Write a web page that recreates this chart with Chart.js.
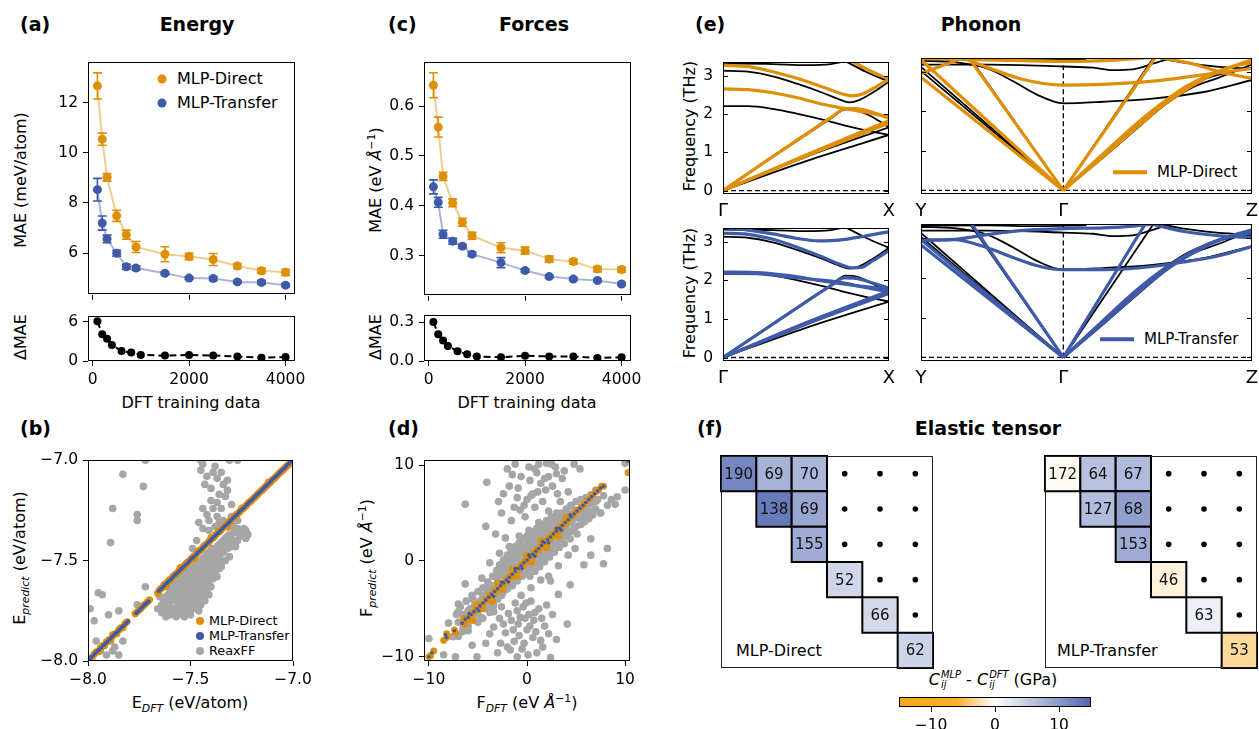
<!DOCTYPE html>
<html><head><meta charset="utf-8">
<script src="https://cdn.jsdelivr.net/npm/chart.js"></script>
<style>
html,body{margin:0;padding:0;background:#fff;}
body{width:1259px;height:729px;position:relative;overflow:hidden;font-family:'DejaVu Sans',sans-serif;color:#000;}
canvas{position:absolute;}
.t{position:absolute;white-space:nowrap;line-height:1;}
.b{font-weight:bold;font-size:19px;}
.lab{font-size:16px;}
.rot{transform:translate(-50%,-50%) rotate(-90deg);}
.ctr{transform:translate(-50%,-50%);}
.lft{transform:translateY(-50%);}
sub,sup{font-size:68%;line-height:0;}
.ss{display:inline-flex;flex-direction:column;vertical-align:middle;font-size:62%;font-style:italic;line-height:1.05;margin-left:1px;}
.dot{position:absolute;border-radius:50%;transform:translate(-50%,-50%);}
.ln{position:absolute;transform:translateY(-50%);}
</style></head><body>
<div class="t b lft" style="left:20px;top:24px">(a)</div>
<div class="t b ctr" style="left:197px;top:24px">Energy</div>
<div class="t b lft" style="left:388px;top:24px">(c)</div>
<div class="t b ctr" style="left:534px;top:24px">Forces</div>
<div class="t b lft" style="left:695px;top:24px">(e)</div>
<div class="t b ctr" style="left:981px;top:24px">Phonon</div>
<div class="t b lft" style="left:20px;top:428px">(b)</div>
<div class="t b lft" style="left:388px;top:428px">(d)</div>
<div class="t b lft" style="left:697px;top:428px">(f)</div>
<div class="t b ctr" style="left:988px;top:428px">Elastic tensor</div>

<div class="t lab rot" style="left:21px;top:180px">MAE (meV/atom)</div>
<div class="t lab rot" style="left:21px;top:337px">ΔMAE</div>
<div class="t lab rot" style="left:376px;top:180px">MAE (eV <i>Å</i><sup>−1</sup>)</div>
<div class="t lab rot" style="left:376px;top:337px">ΔMAE</div>
<div class="t lab ctr" style="left:191px;top:403px">DFT training data</div>
<div class="t lab ctr" style="left:527px;top:403px">DFT training data</div>
<div class="t lab rot" style="left:690px;top:126px">Frequency (THz)</div>
<div class="t lab rot" style="left:690px;top:293px">Frequency (THz)</div>
<div class="t lab rot" style="left:20px;top:558px">E<sub><i>predict</i></sub> (eV/atom)</div>
<div class="t lab rot" style="left:367px;top:558px">F<sub><i>predict</i></sub> (eV <i>Å</i><sup>−1</sup>)</div>
<div class="t lab ctr" style="left:190px;top:703px">E<sub><i>DFT</i></sub> (eV/atom)</div>
<div class="t lab ctr" style="left:527px;top:703px">F<sub><i>DFT</i></sub> (eV <i>Å</i><sup>−1</sup>)</div>
<div class="t lab ctr" style="left:993px;top:680px"><i>C</i><span class="ss"><span>MLP</span><span>ij</span></span> - <i>C</i><span class="ss"><span>DFT</span><span>ij</span></span> (GPa)</div>

<div class="dot" style="left:162px;top:79px;width:9px;height:9px;background:#DE8F05"></div>
<div class="t lab lft" style="left:177px;top:79px">MLP-Direct</div>
<div class="dot" style="left:162px;top:103px;width:9px;height:9px;background:#3F5AA8"></div>
<div class="t lab lft" style="left:177px;top:103px">MLP-Transfer</div>

<div class="dot" style="left:200px;top:621px;width:8px;height:8px;background:#DE8F05"></div>
<div class="t lft" style="left:209px;top:621px;font-size:12.8px">MLP-Direct</div>
<div class="dot" style="left:200px;top:636px;width:8px;height:8px;background:#3F5AA8"></div>
<div class="t lft" style="left:209px;top:636px;font-size:12.8px">MLP-Transfer</div>
<div class="dot" style="left:200px;top:651px;width:8px;height:8px;background:#A6A6A6"></div>
<div class="t lft" style="left:209px;top:651px;font-size:12.8px">ReaxFF</div>

<div class="ln" style="left:1113px;top:172px;width:34px;height:3.5px;background:#DE8F05"></div>
<div class="t lft" style="left:1157px;top:172px;font-size:15px">MLP-Direct</div>
<div class="ln" style="left:1100px;top:339px;width:34px;height:3.5px;background:#3F5AA8"></div>
<div class="t lft" style="left:1144px;top:339px;font-size:15px">MLP-Transfer</div>

<div class="t lab lft" style="left:736px;top:651px">MLP-Direct</div>
<div class="t lab lft" style="left:1057px;top:651px">MLP-Transfer</div>

<script>
// ===================== DATA =====================
const trainSizes = [100,200,300,500,700,900,1500,2000,2500,3000,3500,4000];
const deltaSizes = [100,200,300,400,600,800,1000,1500,2000,2500,3000,3500,4000];

const energyDirect      = [12.66,10.54,9.02,7.49,6.74,6.25,5.96,5.87,5.75,5.49,5.30,5.24];
const energyDirectErr   = [0.52,0.24,0.15,0.22,0.18,0.22,0.30,0.13,0.24,0.10,0.10,0.12];
const energyTransfer    = [8.53,7.20,6.57,6.00,5.46,5.41,5.20,5.01,4.99,4.86,4.84,4.73];
const energyTransferErr = [0.45,0.28,0.15,0.12,0.10,0.08,0.05,0.05,0.08,0.05,0.07,0.05];
const energyDelta       = [6.05,4.06,3.37,2.45,1.52,1.29,0.92,0.83,0.92,0.83,0.69,0.50,0.60];

const forceDirect      = [0.642,0.558,0.459,0.406,0.367,0.340,0.316,0.310,0.293,0.288,0.273,0.272];
const forceDirectErr   = [0.025,0.020,0.008,0.008,0.008,0.007,0.010,0.007,0.006,0.005,0.005,0.005];
const forceTransfer    = [0.438,0.407,0.343,0.329,0.319,0.303,0.286,0.270,0.258,0.253,0.250,0.243];
const forceTransferErr = [0.014,0.010,0.008,0.006,0.004,0.004,0.010,0.003,0.003,0.003,0.003,0.003];
const forceDelta       = [0.300,0.206,0.158,0.116,0.076,0.052,0.035,0.028,0.040,0.035,0.035,0.024,0.028];

const sizeTicks = [0,2000,4000];
const energyMaeTicks = [6,8,10,12];
const energyDeltaTicks = [0,6];
const forceMaeTicks = [0.3,0.4,0.5,0.6];
const forceDeltaTicks = [0,0.3];
const parityTicksE = [-8,-7.5,-7];
const parityTicksF = [-10,0,10];
const freqTicks = [0,1,2,3];
const gxTickPos = [0,1];
const gxTickLabels = ['Γ','X'];
const ygzTickPos = [0,0.43,1];
const ygzTickLabels = ['Y','Γ','Z'];
const cbarTicks = [-10,0,10];

// (b) energy parity [E_DFT, E_predict]
const directE = [
[-8.00,-7.995],[-7.99,-7.985],[-7.98,-7.984],[-7.97,-7.965],[-7.96,-7.955],[-7.95,-7.954],[-7.94,-7.935],[-7.93,-7.925],[-7.92,-7.924],[-7.91,-7.905],[-7.90,-7.895],[-7.89,-7.894],[-7.88,-7.875],[-7.87,-7.865],[-7.86,-7.864],[-7.85,-7.845],[-7.84,-7.835],[-7.83,-7.834],[-7.82,-7.815],[-7.81,-7.805],
[-7.77,-7.765],[-7.76,-7.755],[-7.75,-7.745],[-7.74,-7.735],[-7.73,-7.725],[-7.72,-7.715],[-7.71,-7.705],[-7.70,-7.695],
[-7.66,-7.662],[-7.645,-7.640],[-7.63,-7.622],[-7.615,-7.610],[-7.60,-7.595],[-7.585,-7.578],[-7.57,-7.566],[-7.555,-7.548],[-7.54,-7.536],[-7.525,-7.518],[-7.51,-7.506],[-7.495,-7.489],[-7.48,-7.476],[-7.465,-7.458],[-7.45,-7.446],[-7.435,-7.428],[-7.42,-7.416],[-7.405,-7.399],[-7.39,-7.386],[-7.375,-7.368],[-7.36,-7.357],[-7.345,-7.339],[-7.33,-7.326],[-7.315,-7.309],[-7.30,-7.297],[-7.285,-7.280],[-7.27,-7.266],[-7.255,-7.250],[-7.24,-7.238],[-7.225,-7.221],[-7.21,-7.207],[-7.195,-7.192],[-7.18,-7.178],[-7.165,-7.161],[-7.15,-7.148],[-7.135,-7.132],[-7.12,-7.118],[-7.105,-7.102],[-7.09,-7.089],[-7.075,-7.073],[-7.06,-7.058],[-7.045,-7.044],[-7.03,-7.029],[-7.015,-7.014],[-7.00,-7.000],
[-7.652,-7.648],[-7.637,-7.634],[-7.622,-7.618],[-7.607,-7.600],[-7.592,-7.589],[-7.577,-7.571],[-7.562,-7.558],[-7.547,-7.540],[-7.532,-7.529],[-7.517,-7.510],[-7.502,-7.499],[-7.487,-7.481],[-7.472,-7.468],[-7.457,-7.450],[-7.442,-7.439],[-7.427,-7.420],[-7.412,-7.409],[-7.397,-7.390],[-7.382,-7.379],[-7.367,-7.360],[-7.352,-7.349],[-7.337,-7.331],[-7.322,-7.319],[-7.307,-7.301],[-7.292,-7.289],[-7.277,-7.271],[-7.262,-7.259],[-7.247,-7.242],[-7.232,-7.229],[-7.217,-7.212],[-7.202,-7.200],[-7.187,-7.184],[-7.172,-7.169],[-7.157,-7.154],[-7.142,-7.140],[-7.127,-7.124],[-7.112,-7.110],[-7.097,-7.095],[-7.082,-7.081],[-7.067,-7.065],[-7.052,-7.051],[-7.037,-7.036],[-7.022,-7.021],[-7.007,-7.006],
[-7.55,-7.535],[-7.40,-7.385],[-7.48,-7.490],[-7.62,-7.628],[-7.25,-7.238],[-7.32,-7.333],[-7.12,-7.108],[-7.88,-7.870]
];
const transferE = [
[-7.995,-7.992],[-7.985,-7.982],[-7.975,-7.973],[-7.965,-7.962],[-7.955,-7.951],[-7.945,-7.943],[-7.935,-7.934],[-7.925,-7.922],[-7.915,-7.912],[-7.905,-7.903],[-7.895,-7.893],[-7.885,-7.882],[-7.875,-7.871],[-7.865,-7.862],[-7.855,-7.853],[-7.845,-7.842],[-7.835,-7.832],[-7.825,-7.823],[-7.815,-7.812],[-7.805,-7.803],
[-7.765,-7.761],[-7.755,-7.752],[-7.745,-7.743],[-7.735,-7.732],[-7.725,-7.721],[-7.715,-7.713],[-7.705,-7.703],
[-7.655,-7.651],[-7.645,-7.642],[-7.635,-7.632],[-7.625,-7.621],[-7.615,-7.611],[-7.605,-7.602],[-7.595,-7.593],[-7.585,-7.581],[-7.575,-7.570],[-7.565,-7.562],[-7.555,-7.552],[-7.545,-7.541],[-7.535,-7.531],[-7.525,-7.522],[-7.515,-7.513],[-7.505,-7.501],[-7.495,-7.490],[-7.485,-7.482],[-7.475,-7.472],[-7.465,-7.461],[-7.455,-7.451],[-7.445,-7.442],[-7.435,-7.432],[-7.425,-7.421],[-7.415,-7.410],[-7.405,-7.402],[-7.395,-7.392],[-7.385,-7.381],[-7.375,-7.371],[-7.365,-7.362],[-7.355,-7.352],[-7.345,-7.341],[-7.335,-7.330],[-7.325,-7.322],[-7.315,-7.312],[-7.305,-7.301],[-7.295,-7.291],[-7.285,-7.282],[-7.275,-7.272],[-7.265,-7.261],[-7.255,-7.250],[-7.245,-7.242],[-7.235,-7.232],[-7.225,-7.221],[-7.215,-7.211],[-7.205,-7.202],[-7.195,-7.192],[-7.185,-7.181],[-7.175,-7.170],[-7.165,-7.162],[-7.155,-7.152],[-7.145,-7.141],[-7.135,-7.131],[-7.125,-7.122],[-7.115,-7.112],[-7.105,-7.101],[-7.095,-7.090],[-7.085,-7.082],[-7.075,-7.072],[-7.065,-7.061],[-7.055,-7.051],[-7.045,-7.042],[-7.035,-7.032],[-7.025,-7.021],[-7.015,-7.011],[-7.005,-7.002]
];
const reaxE = [
[-7.83,-7.07],[-7.73,-7.13],[-7.88,-7.24],[-7.89,-7.41],[-7.76,-7.27],[-7.76,-7.30],[-7.72,-7.63],[-7.95,-7.66],[-7.93,-7.67],[-7.99,-7.74],[-7.97,-7.80],[-7.76,-7.72],[-7.85,-7.75],[-7.90,-7.77],[-7.96,-7.90],[-7.92,-7.92],[-7.88,-7.95],[-7.85,-7.97],[-7.89,-7.90],[-7.83,-7.90],[-7.87,-7.93],[-7.94,-7.95],[-7.91,-7.97],
[-7.72,-7.00],[-7.45,-7.00],[-7.31,-7.00],[-7.27,-7.00],[-7.45,-7.05],[-7.39,-7.06],[-7.37,-7.09],[-7.43,-7.12],[-7.34,-7.12],[-7.32,-7.10],[-7.36,-7.17],[-7.37,-7.21],[-7.32,-7.15],[-7.42,-7.27],[-7.37,-7.28],[-7.46,-7.31],[-7.41,-7.35],[-7.36,-7.31],[-7.29,-7.33],[-7.26,-7.36],[-7.23,-7.39],[-7.31,-7.41],[-7.28,-7.43],[-7.47,-7.40],[-7.49,-7.44],[-7.40,-7.20],[-7.44,-7.24],
[-7.44,-7.02],[-7.42,-7.08],[-7.40,-7.14],[-7.38,-7.03],[-7.35,-7.06],[-7.33,-7.18],[-7.30,-7.22],[-7.35,-7.24],[-7.39,-7.24],[-7.41,-7.30],[-7.44,-7.34],[-7.38,-7.33],[-7.34,-7.30],[-7.30,-7.28],[-7.27,-7.30],
[-7.64,-7.72],[-7.64,-7.76],[-7.62,-7.68],[-7.62,-7.74],[-7.60,-7.65],[-7.60,-7.71],[-7.60,-7.77],[-7.58,-7.62],[-7.58,-7.68],[-7.58,-7.74],[-7.56,-7.60],[-7.56,-7.66],[-7.56,-7.72],[-7.56,-7.77],[-7.54,-7.58],[-7.54,-7.64],[-7.54,-7.70],[-7.54,-7.75],[-7.52,-7.56],[-7.52,-7.62],[-7.52,-7.68],[-7.52,-7.74],[-7.50,-7.54],[-7.50,-7.60],[-7.50,-7.66],[-7.50,-7.72],[-7.50,-7.77],[-7.48,-7.53],[-7.48,-7.59],[-7.48,-7.65],[-7.48,-7.71],[-7.46,-7.51],[-7.46,-7.57],[-7.46,-7.63],[-7.46,-7.69],[-7.46,-7.75],[-7.44,-7.49],[-7.44,-7.55],[-7.44,-7.61],[-7.44,-7.67],[-7.42,-7.47],[-7.42,-7.53],[-7.42,-7.59],[-7.42,-7.65],[-7.40,-7.45],[-7.40,-7.51],[-7.40,-7.57],[-7.40,-7.63],[-7.38,-7.44],[-7.38,-7.50],[-7.38,-7.56],[-7.36,-7.42],[-7.36,-7.48],[-7.36,-7.54],[-7.34,-7.40],[-7.34,-7.46],[-7.32,-7.38],[-7.32,-7.44],[-7.30,-7.37],[-7.30,-7.43],[-7.28,-7.35],[-7.26,-7.38],[-7.24,-7.34],[-7.22,-7.37],[-7.62,-7.78],[-7.57,-7.78],[-7.53,-7.78],[-7.59,-7.66],[-7.55,-7.69],[-7.51,-7.64],[-7.47,-7.62],[-7.43,-7.58],[-7.39,-7.54],[-7.35,-7.50],[-7.31,-7.48],[-7.66,-7.74],[-7.65,-7.68],
[-7.63,-7.70],[-7.63,-7.75],[-7.61,-7.67],[-7.61,-7.73],[-7.59,-7.63],[-7.59,-7.70],[-7.59,-7.76],[-7.57,-7.61],[-7.57,-7.64],[-7.57,-7.69],[-7.57,-7.75],[-7.55,-7.59],[-7.55,-7.63],[-7.55,-7.67],[-7.55,-7.74],[-7.53,-7.57],[-7.53,-7.60],[-7.53,-7.66],[-7.53,-7.71],[-7.53,-7.76],[-7.51,-7.55],[-7.51,-7.58],[-7.51,-7.62],[-7.51,-7.69],[-7.51,-7.75],[-7.49,-7.56],[-7.49,-7.63],[-7.49,-7.68],[-7.49,-7.74],[-7.47,-7.52],[-7.47,-7.55],[-7.47,-7.66],[-7.47,-7.72],[-7.45,-7.50],[-7.45,-7.54],[-7.45,-7.60],[-7.45,-7.66],[-7.45,-7.72],[-7.43,-7.48],[-7.43,-7.52],[-7.43,-7.63],[-7.43,-7.70],[-7.41,-7.46],[-7.41,-7.49],[-7.41,-7.55],[-7.41,-7.61],[-7.41,-7.67],[-7.39,-7.44],[-7.39,-7.48],[-7.39,-7.52],[-7.39,-7.59],[-7.37,-7.43],[-7.37,-7.47],[-7.37,-7.52],[-7.37,-7.58],[-7.35,-7.41],[-7.35,-7.45],[-7.35,-7.53],[-7.33,-7.39],[-7.33,-7.43],[-7.33,-7.50],[-7.31,-7.37],[-7.31,-7.42],[-7.29,-7.36],[-7.29,-7.40],[-7.27,-7.34],[-7.27,-7.40],[-7.25,-7.36],[-7.23,-7.35]
];

// (d) force parity [F_DFT, F_predict]
const directF = [
[-10.0,-10.0],[-9.8,-9.9],[-9.5,-9.4],[-8.5,-8.3],[-8.2,-8.0],[-8.2,-7.6],[-7.4,-7.2],[-7.3,-7.5],[-6.5,-6.5],[-6.4,-6.0],[-6.1,-6.2],[-5.8,-5.6],[-5.5,-5.4],[-5.2,-5.0],[-5.0,-5.1],[-4.8,-4.6],[-4.5,-4.5],[-4.2,-4.0],[-4.0,-4.1],[-3.8,-3.6],[-3.6,-3.7],[-3.4,-3.2],[-3.2,-3.3],[-3.0,-2.8],[-2.8,-2.9],[-2.6,-2.4],[-2.4,-2.5],[-2.2,-2.0],[-2.0,-2.1],[-1.8,-1.6],[-1.6,-1.7],[-1.4,-1.2],[-1.2,-1.3],[-1.0,-0.8],[-0.8,-0.9],[-0.6,-0.4],[-0.4,-0.5],[-0.2,0.0],[0.0,-0.1],[0.2,0.4],[0.4,0.3],[0.6,0.8],[0.8,0.7],[1.0,1.2],[1.2,1.1],[1.4,1.6],[1.6,1.5],[1.8,2.0],[2.0,1.9],[2.2,2.4],[2.4,2.3],[2.6,2.8],[2.8,2.7],[3.0,3.2],[3.2,3.1],[3.4,3.6],[3.6,3.5],[3.8,4.0],[4.0,3.9],[4.0,4.6],[4.3,4.4],[4.6,4.7],[4.9,5.0],[5.2,5.3],[5.5,5.6],[5.8,5.9],[6.1,6.3],[6.4,6.5],[6.7,6.9],[7.0,7.2],[7.3,7.4],[7.6,7.8],[7.8,7.8],[10.3,9.2],
[-3.5,-4.2],[-2.5,-3.0],[-1.0,-1.6],[0.5,-0.1],[2.0,1.4],[3.2,2.6],[-4.5,-5.0],[-5.5,-6.2],[-3.0,-2.3],[-1.5,-0.9],[0.0,0.6],[1.5,2.1],[-5.2,-4.6],[-6.3,-6.6]
];
const transferF = [
[-10.0,-10.0],[-9.7,-9.6],[-8.2,-8.0],[-8.3,-7.7],[-7.4,-7.3],[-6.6,-6.5],[-6.3,-6.1],[-6.0,-5.9],[-5.7,-5.6],[-5.4,-5.3],[-5.1,-5.0],[-4.8,-4.7],[-4.5,-4.4],[-4.2,-4.1],[-3.9,-3.8],[-3.6,-3.5],[-3.3,-3.2],[-3.0,-2.9],[-2.7,-2.6],[-2.4,-2.3],[-2.1,-2.0],[-1.8,-1.7],[-1.5,-1.4],[-1.2,-1.1],[-0.9,-0.8],[-0.6,-0.5],[-0.3,-0.2],[0.0,0.1],[0.3,0.4],[0.6,0.7],[0.9,1.0],[1.2,1.3],[1.5,1.6],[1.8,1.9],[2.1,2.2],[2.4,2.5],[2.7,2.8],[3.0,3.1],[3.3,3.4],[3.6,3.7],[3.9,4.0],[4.2,4.3],[4.5,4.6],[4.8,4.9],[5.1,5.2],[5.4,5.5],[5.7,5.8],[6.0,6.1],[6.3,6.4],[6.6,6.7],[6.9,7.0],[7.2,7.3],[7.5,7.6],[7.8,7.8],[10.3,10.4],
[-3.4,-3.7],[-1.9,-2.2],[-0.5,-0.8],[0.8,0.5],[2.2,1.9],[3.5,3.2],[-2.6,-2.2],[-1.2,-0.8],[0.2,0.6],[1.6,2.0],[3.0,3.4],[4.4,4.8],[-4.9,-5.2],[-5.9,-5.5]
];
const reaxF = [
[-8.5,-9.8],[-8.0,-6.5],[-7.6,-7.9],[-7.2,-5.6],[-7.0,-6.4],[-6.8,-4.8],[-6.6,-7.4],[-6.4,-5.6],[-6.2,-4.2],[-6.0,-6.8],[-5.8,-5.0],[-5.6,-3.6],[-5.5,-6.2],[-5.3,-4.4],[-5.1,-5.6],[-5.0,-3.2],[-4.8,-4.2],[-4.7,-5.9],[-4.5,-2.8],[-4.4,-3.6],[-4.3,-5.0],[-4.1,-4.4],[-4.0,-2.2],[-3.9,-3.0],[-3.8,-5.4],[-3.7,-3.9],[-3.5,-1.6],[-3.5,-2.6],[-3.4,-4.6],[-3.3,-3.3],[-3.1,-1.0],[-3.0,-2.0],[-3.0,-4.0],[-2.9,-2.8],[-2.8,-0.4],[-2.7,-1.5],[-2.6,-3.6],[-2.5,-2.4],[-2.4,0.1],[-2.3,-1.0],[-2.2,-3.0],[-2.1,-1.9],[-2.0,0.6],[-1.9,-0.4],[-1.8,-2.6],[-1.7,-1.4],[-1.6,1.0],[-1.5,0.1],[-1.4,-2.2],[-1.3,-0.9],[-1.2,1.5],[-1.1,0.4],[-1.0,-1.8],[-0.9,-0.5],[-0.8,1.9],[-0.7,0.9],[-0.6,-1.4],[-0.5,-0.2],[-0.4,2.3],[-0.3,1.3],[-0.2,-1.0],[-0.1,0.3],[0.0,2.6],[0.1,-0.6],[0.2,1.8],[0.3,-1.6],[0.4,0.8],[0.5,3.0],[0.6,-0.2],[0.7,2.2],[0.8,-1.1],[0.9,1.4],[1.0,3.4],[1.1,0.3],[1.2,2.6],[1.3,-0.6],[1.4,1.8],[1.5,3.8],[1.6,0.8],[1.7,3.0],[1.8,-0.1],[1.9,2.3],[2.0,4.2],[2.1,1.3],[2.2,3.4],[2.3,0.4],[2.4,2.7],[2.5,4.6],[2.6,1.8],[2.7,3.8],[2.8,0.9],[2.9,3.1],[3.0,5.0],[3.1,2.2],[3.2,4.1],[3.3,1.4],[3.4,3.5],[3.6,2.6],[3.7,4.5],[3.8,1.8],[4.0,3.9],[4.1,3.0],[4.3,4.9],[4.4,2.3],[4.6,4.2],[4.8,3.4],[5.0,5.3],[5.1,2.8],[5.3,4.6],[5.5,3.8],[5.7,5.5],[5.9,4.1],[6.1,5.0],[6.3,4.4],[6.5,6.0],[6.7,4.8],[7.0,5.4],[7.2,6.4],[7.5,5.0],[7.8,6.8],[8.2,5.8],[8.6,6.4],
[-7.0,-7.9],[-7.0,-5.3],[-6.5,-6.0],[-6.5,-5.6],[-6.5,-7.0],[-6.0,-5.2],[-6.0,-6.0],[-6.0,-7.3],[-5.5,-4.9],[-5.5,-5.5],[-5.5,-4.0],[-5.0,-4.7],[-5.0,-6.4],[-5.0,-5.3],[-4.5,-3.6],[-4.5,-4.8],[-4.5,-6.0],[-4.0,-3.4],[-4.0,-4.8],[-4.0,-2.9],[-3.5,-3.1],[-3.5,-4.1],[-3.5,-5.0],[-3.0,-2.6],[-3.0,-3.2],[-3.0,-1.6],[-2.5,-1.3],[-2.5,-3.4],[-2.5,-0.6],[-2.0,-1.7],[-2.0,-2.9],[-2.0,0.1],[-2.0,-0.9],[-1.5,-1.2],[-1.5,-2.6],[-1.5,0.5],[-1.5,-0.3],[-1.0,-1.2],[-1.0,-2.1],[-1.0,1.1],[-1.0,0.2],[-0.5,-0.7],[-0.5,-1.6],[-0.5,1.5],[-0.5,0.6],[0.0,-0.4],[0.0,-1.3],[0.0,2.1],[0.0,1.1],[0.5,0.3],[0.5,-0.8],[0.5,2.4],[0.5,1.5],[1.0,0.7],[1.0,-0.3],[1.0,2.8],[1.0,1.9],[1.5,1.2],[1.5,0.2],[1.5,3.2],[1.5,2.5],[2.0,1.7],[2.0,0.7],[2.0,3.7],[2.0,2.9],[2.5,2.2],[2.5,1.1],[2.5,4.1],[2.5,3.3],[3.0,2.6],[3.0,1.7],[3.0,4.5],[3.0,3.8],[3.5,3.2],[3.5,2.2],[3.5,5.0],[3.5,4.2],[4.0,3.5],[4.0,2.6],[4.0,5.4],[4.0,4.5],[4.5,4.0],[4.5,3.1],[4.5,5.8],[4.5,4.9],[5.0,4.5],[5.0,3.6],[5.0,6.2],[5.5,4.9],[5.5,4.2],[5.5,6.4],[6.0,5.5],[6.0,4.6],[6.0,6.6],[6.5,5.2],[6.5,6.9],[7.0,6.2],[7.0,7.4],
[-1.8,1.5],[-2.8,0.8],[-3.8,-0.2],[-4.6,-1.8],[-0.8,2.6],[0.2,3.2],[1.2,4.0],[-2.2,2.4],[2.2,-1.6],[3.2,-0.5],[4.2,0.6],[1.4,-2.0],[0.4,-2.8],[-0.6,-3.6],
[-1.2,10.1],[-2.0,9.6],[1.2,10.1],[2.5,10.1],[2.9,9.8],[4.8,10.1],[5.4,9.6],[-4.1,8.2],[-2.4,7.0],[0.3,8.4],[1.4,8.1],[1.9,7.4],[-6.3,5.9],[-4.2,3.6],[-3.2,2.8],[-0.7,5.3],[0.0,6.4],[3.1,7.0],[4.4,5.7],[7.5,5.0],[9.0,5.9],[10.0,7.4],[9.2,6.7],[-1.6,4.2],[-0.2,4.6],[0.8,5.6],[1.6,6.2],[2.2,5.2],[-2.6,5.0],[0.6,7.0],[3.6,8.6],[-0.6,8.8],[1.0,9.2],[2.2,8.8],[3.4,6.2],[-1.0,6.6],[-1.8,7.8],[0.2,9.8],[3.8,9.4],[10.0,10.2],
[-0.3,5.8],[0.4,6.8],[1.1,7.2],[-1.3,5.6],[2.6,7.8],[1.8,8.6],[-0.9,7.6],[0.8,9.6],[-2.9,6.2],[3.0,9.1],[-1.5,9.0],[2.0,10.2],[4.2,7.2],
[-6.3,-2.4],[-5.8,-5.2],[-7.0,-4.5],[-7.5,-7.9],[-7.3,-10.0],[-10.0,-8.1],[-5.1,-10.0],[-4.2,-8.6],[-3.4,-6.9],[-2.7,-8.6],[-1.7,-9.3],[-1.0,-10.0],[-0.3,-8.6],[0.0,-7.2],[0.7,-6.2],[1.0,-9.6],[2.4,-10.1],[-0.7,-5.9],[-1.9,-5.5],[-1.4,-7.2],[-2.4,-6.6],[3.2,-3.5],[4.1,-6.6],[4.4,-2.5],[5.8,-0.4],[6.5,0.6],[7.8,-0.3],[8.2,1.3],[2.4,-2.1],[4.9,1.3],[6.5,2.3],[1.4,-8.3],[-0.4,-4.8],[0.4,-4.2],[1.2,-5.0],[-1.2,-4.4],[0.2,-5.6],[-0.8,-7.8],[0.6,-8.0],[-2.0,-9.0],[-3.0,-9.6],[1.8,-6.8],[-1.6,-6.2],[2.0,-4.6],[-2.6,-4.8],[-3.8,-7.6],[-5.6,-8.8],[3.0,-8.2],[2.6,-5.6],
[-0.2,-6.0],[0.3,-6.8],[-0.9,-6.6],[0.9,-7.4],[-0.5,-9.2],[0.1,-9.8],[-1.3,-8.4],[1.6,-9.0],[-2.2,-7.5],[2.2,-7.6],[-0.1,-4.4],[0.8,-5.4],[-1.0,-5.2],[1.5,-6.0],[-2.8,-6.0],[-3.4,-5.3]
];

// (e) phonon branches [path coordinate, THz]; Γ-X path 0..1, Y-Γ-Z path 0..1 with Γ at 0.43
const dftGX = [
 [[0,3.31],[0.3,3.30],[0.5,3.27],[0.65,3.30],[0.73,3.37]],
 [[0.74,3.37],[0.86,3.10],[1,2.84]],
 [[0,3.13],[0.15,3.10],[0.3,2.98],[0.45,2.78],[0.6,2.55],[0.7,2.38],[0.76,2.30],[0.82,2.36],[0.9,2.55],[1,2.84]],
 [[0,2.20],[0.15,2.20],[0.3,2.13],[0.45,2.00],[0.6,1.85],[0.75,1.68],[0.88,1.55],[1,1.45]],
 [[0,0],[0.25,0.73],[0.5,1.45],[0.65,1.88],[0.74,2.12],[0.8,2.10],[0.9,1.92],[1,1.65]],
 [[0,0],[0.5,0.77],[1,1.45]],
 [[0,0],[0.5,0.88],[1,1.65]]
];
const directGX = [
 [[0,3.27],[0.15,3.23],[0.3,3.10],[0.45,2.92],[0.6,2.70],[0.72,2.52],[0.78,2.47],[0.84,2.52],[0.92,2.70],[1,2.90]],
 [[0.76,3.42],[0.86,3.18],[1,2.90]],
 [[0,2.65],[0.15,2.63],[0.3,2.55],[0.45,2.42],[0.6,2.25],[0.72,2.15],[0.85,2.05],[1,1.92]],
 [[0,0],[0.25,0.74],[0.5,1.47],[0.65,1.90],[0.74,2.14],[0.8,2.14],[0.9,2.04],[1,1.88]],
 [[0,0],[0.5,0.93],[1,1.82]],
 [[0,0],[0.5,0.90],[1,1.76]]
];
const transferGX = [
 [[0,3.36],[0.15,3.30],[0.3,3.20],[0.45,3.08],[0.58,3.02],[0.7,3.04],[0.85,3.14],[1,3.26]],
 [[0,3.22],[0.15,3.19],[0.3,3.06],[0.45,2.85],[0.6,2.60],[0.7,2.42],[0.78,2.32],[0.83,2.33],[0.9,2.50],[1,2.77]],
 [[0,2.21],[0.2,2.20],[0.4,2.12],[0.6,1.98],[0.8,1.86],[1,1.77]],
 [[0,2.18],[0.2,2.17],[0.4,2.08],[0.55,2.02],[0.7,1.95],[0.85,1.82],[1,1.70]],
 [[0,0],[0.25,0.72],[0.5,1.44],[0.65,1.86],[0.73,2.06],[0.8,2.05],[0.9,1.93],[1,1.80]],
 [[0,0],[0.5,0.90],[1,1.72]],
 [[0,0],[0.5,0.86],[1,1.66]]
];
const dftYGZ = [
 [[0,3.02],[0.43,0]],
 [[0,3.12],[0.43,0]],
 [[0.145,3.38],[0.43,0]],
 [[0,3.27],[0.1,3.24],[0.2,3.08],[0.28,2.75],[0.35,2.42],[0.43,2.20],[0.55,2.24],[0.7,2.32],[0.85,2.48],[1,2.79]],
 [[0,3.18],[0.2,3.18],[0.43,3.13],[0.52,3.10],[0.58,3.04],[0.64,3.06],[0.7,3.20],[0.75,3.33]],
 [[0,3.30],[0.2,3.31],[0.35,3.29],[0.5,3.31]],
 [[0.7,3.38],[0.8,3.22],[0.9,3.12],[1,3.08]],
 [[0.43,0],[0.705,3.38]],
 [[0.43,0],[0.55,0.90],[0.65,1.65],[0.72,2.15],[0.8,2.60],[0.88,2.88],[0.95,3.02],[1,3.08]],
 [[0.43,0],[0.56,0.90],[0.66,1.62],[0.74,2.18],[0.82,2.60],[0.9,2.85],[1,3.18]]
];
const directYGZ = [
 [[0,2.86],[0.43,0]],
 [[0,3.30],[0.43,0]],
 [[0.14,3.40],[0.43,0]],
 [[0,2.95],[0.08,3.20],[0.14,3.38]],
 [[0.12,3.36],[0.22,3.05],[0.3,2.82],[0.37,2.70],[0.43,2.66],[0.55,2.68],[0.7,2.76],[0.85,2.92],[1,3.08]],
 [[0,3.33],[0.2,3.30],[0.43,3.26],[0.6,3.30],[0.7,3.36]],
 [[0.72,3.36],[0.82,3.20],[0.9,3.00],[1,2.83]],
 [[0.43,0],[0.71,3.38]],
 [[0.43,0],[0.55,0.92],[0.65,1.68],[0.72,2.15],[0.8,2.62],[0.88,2.95],[0.95,3.15],[1,3.22]],
 [[0.43,0],[0.56,0.92],[0.66,1.65],[0.74,2.20],[0.82,2.65],[0.9,3.00],[1,3.30]]
];
const transferYGZ = [
 [[0,2.82],[0.43,0]],
 [[0,2.95],[0.43,0]],
 [[0.15,3.38],[0.43,0]],
 [[0,2.94],[0.1,2.95],[0.2,2.75],[0.28,2.50],[0.36,2.28],[0.43,2.20],[0.55,2.20],[0.7,2.28],[0.8,2.40],[0.9,2.55],[1,2.78]],
 [[0,2.94],[0.1,2.96],[0.2,3.08],[0.3,3.18],[0.43,3.23],[0.55,3.25],[0.65,3.30],[0.72,3.36]],
 [[0.68,3.38],[0.8,3.15],[0.9,3.05],[1,3.00]],
 [[0.43,0],[0.68,3.38]],
 [[0.43,0],[0.55,0.92],[0.65,1.68],[0.74,2.25],[0.82,2.65],[0.9,2.95],[1,3.12]],
 [[0.43,0],[0.56,0.92],[0.66,1.65],[0.75,2.25],[0.84,2.70],[0.92,3.00],[1,3.20]]
];

// (f) elastic tensor cells [row, col], values (GPa), and C_MLP - C_DFT (GPa)
const tensorCells = [[0,0],[0,1],[0,2],[1,1],[1,2],[2,2],[3,3],[4,4],[5,5]];
const directCij   = [190,69,70,138,69,155,52,66,62];
const directDiff  = [11.8,7.6,7.3,13.0,8.8,8.3,4.0,3.8,4.3];
const transferCij = [172,64,67,127,68,153,46,63,53];
const transferDiff= [-0.3,6.1,6.8,6.6,9.5,8.3,-1.0,1.6,-2.8];
const zeroCells = [[0,3],[0,4],[0,5],[1,3],[1,4],[1,5],[2,3],[2,4],[2,5],[3,4],[3,5],[4,5]];

// ===================== STYLE / HELPERS =====================
const ORANGE = '#DE8F05', BLUE = '#3F5AA8', GRAY = '#A6A6A6';
const ORANGE_L = 'rgba(222,143,5,0.45)', BLUE_L = 'rgba(63,90,168,0.45)';
const cmapStops = [[-15,[250,166,26]],[-6,[251,176,42]],[0,[255,255,255]],[15,[80,103,175]]];
function cmap(v){
  v = Math.max(-15, Math.min(15, v));
  for (let i=0;i<cmapStops.length-1;i++){
    const [a,ca]=cmapStops[i],[b,cb]=cmapStops[i+1];
    if (v>=a && v<=b){ const t=(v-a)/(b-a); return 'rgb('+ca.map((c,k)=>Math.round(c+(cb[k]-c)*t)).join(',')+')'; }
  }
  return 'rgb(255,255,255)';
}
Chart.defaults.font.family = "'DejaVu Sans', sans-serif";
Chart.defaults.color = '#000';

const fmt = d => v => (v<0?'\u2212':'') + Math.abs(v).toFixed(d);
const toXY = arr => arr.map(([x,y]) => ({x,y}));

function axis(min, max, ticks, o={}) {
  return {
    type:'linear', min, max, reverse: !!o.reverse,
    afterBuildTicks: s => { s.ticks = ticks.map(v=>({value:v})); },
    ticks: { display: o.labels !== false, font:{size:o.size||15.5}, color:'#000', padding: o.pad ?? 5,
             maxRotation:0, autoSkip:false, callback: o.cb || fmt(o.dec||0) },
    grid: { display: o.grid !== false, drawOnChartArea:false, drawTicks:true, tickLength:5, tickWidth:1, color:'#000' },
    border: { display:false }
  };
}
function mk(box, m, cfg) {
  const [L,T,R,B] = box, [ml,mt,mr,mb] = m;
  const w = R-L+ml+mr, h = B-T+mt+mb;
  const c = document.createElement('canvas');
  c.width = w; c.height = h;
  c.style.left=(L-ml)+'px'; c.style.top=(T-mt)+'px'; c.style.width=w+'px'; c.style.height=h+'px';
  document.body.appendChild(c);
  const o = cfg.options;
  o.responsive=false; o.maintainAspectRatio=false; o.animation=false; o.devicePixelRatio=1; o.events=[];
  o.layout = {padding:{left:0,top:mt,right:mr,bottom:0}};
  o.plugins = Object.assign({legend:{display:false}, tooltip:{enabled:false}}, o.plugins||{});
  o.scales.x.afterFit = s => { s.height = mb; };
  o.scales.y.afterFit = s => { s.width = ml; };
  return new Chart(c, cfg);
}
const framePlugin = { id:'frame', afterDatasetsDraw(chart, a, opts) {
  const ar = chart.chartArea, c = chart.ctx; c.save(); c.strokeStyle = opts.color || '#000'; c.lineWidth = opts.width || 1;
  c.strokeRect(Math.round(ar.left)+0.5, Math.round(ar.top)+0.5, Math.round(ar.right-ar.left)-1, Math.round(ar.bottom-ar.top)-1);
  c.restore(); } };
const errPlugin = { id:'errbars', afterDatasetsDraw(chart) {
  const {ctx, scales:{x,y}} = chart;
  chart.data.datasets.forEach(ds => {
    if (!ds.errors) return;
    ctx.save(); ctx.strokeStyle = ds.pointBackgroundColor; ctx.lineWidth = 1.6;
    ds.data.forEach((p,j) => {
      const e = ds.errors[j], px = x.getPixelForValue(p.x), y1 = y.getPixelForValue(p.y-e), y2 = y.getPixelForValue(p.y+e);
      ctx.beginPath(); ctx.moveTo(px,y1); ctx.lineTo(px,y2);
      ctx.moveTo(px-4.5,y1); ctx.lineTo(px+4.5,y1); ctx.moveTo(px-4.5,y2); ctx.lineTo(px+4.5,y2); ctx.stroke();
    });
    ctx.restore();
  }); } };
const inTicksPlugin = { id:'inticks', afterDatasetsDraw(chart, a, opts) {
  const {ctx, chartArea:ar, scales:{y}} = chart; ctx.save(); ctx.strokeStyle='#000'; ctx.lineWidth=1;
  opts.values.forEach(v => { const py = Math.round(y.getPixelForValue(v))+0.5; ctx.beginPath();
    ctx.moveTo(ar.left,py); ctx.lineTo(ar.left+5,py); ctx.moveTo(ar.right,py); ctx.lineTo(ar.right-5,py); ctx.stroke(); });
  ctx.restore(); } };
const cellTextPlugin = { id:'celltext', afterDatasetsDraw(chart, a, opts) {
  const meta = chart.getDatasetMeta(0), c = chart.ctx; c.save();
  c.font = "15px 'DejaVu Sans'"; c.fillStyle = '#111'; c.textAlign='center'; c.textBaseline='middle';
  meta.data.forEach((el,i) => c.fillText(String(opts.values[i]), el.x, el.y+1)); c.restore(); } };
const gradPlugin = { id:'grad', beforeDatasetsDraw(chart) {
  const {ctx, chartArea:a, scales:{x}} = chart;
  const g = ctx.createLinearGradient(a.left,0,a.right,0);
  cmapStops.forEach(([v,c]) => g.addColorStop((x.getPixelForValue(v)-a.left)/(a.right-a.left), 'rgb('+c.join(',')+')'));
  ctx.save(); ctx.fillStyle = g; ctx.fillRect(a.left,a.top,a.right-a.left,a.bottom-a.top); ctx.restore(); } };

// ===================== (a),(c) MAE curves =====================
const XMIN = -95, XMAX = 4195;
function maeChart(box, dv, de, tv, te, ymin, ymax, yt, dec) {
  const pts = v => trainSizes.map((s,i)=>({x:s,y:v[i]}));
  return mk(box, [60,10,30,6], { type:'line',
    data:{datasets:[
      {data:pts(dv), errors:de, borderColor:ORANGE_L, borderWidth:2, pointRadius:4.5, pointBackgroundColor:ORANGE, pointBorderWidth:0},
      {data:pts(tv), errors:te, borderColor:BLUE_L, borderWidth:2, pointRadius:4.5, pointBackgroundColor:BLUE, pointBorderWidth:0}
    ]},
    options:{ scales:{ x: axis(XMIN,XMAX,sizeTicks,{labels:false}), y: axis(ymin,ymax,yt,{dec}) } },
    plugins:[errPlugin, framePlugin] });
}
function deltaChart(box, dv, ymax, yt, dec) {
  return mk(box, [60,10,30,30], { type:'line',
    data:{datasets:[{data:deltaSizes.map((s,i)=>({x:s,y:dv[i]})), borderColor:'#000', borderWidth:2, borderDash:[7,4],
      pointRadius:4, pointBackgroundColor:'#000', pointBorderWidth:0}]},
    options:{ scales:{ x: axis(XMIN,XMAX,sizeTicks,{}), y: axis(0,ymax,yt,{dec}) } },
    plugins:[framePlugin] });
}
maeChart([88,58,295,303], energyDirect, energyDirectErr, energyTransfer, energyTransferErr, 4.35, 13.6, energyMaeTicks, 0);
deltaChart([88,312,295,361], energyDelta, 6.8, energyDeltaTicks, 0);
maeChart([424,58,631,304], forceDirect, forceDirectErr, forceTransfer, forceTransferErr, 0.2196, 0.688, forceMaeTicks, 1);
deltaChart([424,311,631,361], forceDelta, 0.352, forceDeltaTicks, 1);

// ===================== (b),(d) parity =====================
function parityChart(box, dir, tra, rea, lo, hi, ylo, yhi, ticks, dec, rs) {
  return mk(box, [70,10,30,30], { type:'scatter',
    data:{datasets:[
      {data:toXY(tra), pointRadius:rs[1], backgroundColor:BLUE, borderWidth:0, clip:0},
      {data:toXY(dir), pointRadius:rs[0], backgroundColor:ORANGE, borderWidth:0, clip:0},
      {data:toXY(rea), pointRadius:rs[2], backgroundColor:GRAY, borderWidth:0, clip:0}
    ]},
    options:{ scales:{ x: axis(lo,hi,ticks,{dec}), y: axis(ylo,yhi,ticks,{dec}) } },
    plugins:[framePlugin] });
}
parityChart([88,456,293,661], directE, transferE, reaxE, -8, -7, -8, -7, parityTicksE, 1, [3.6,2.1,3.8]);
parityChart([424,456,630,661], directF, transferF, reaxF, -10.5, 10.5, -10.45, 10.5, parityTicksF, 0, [3.4,1.8,3.8]);

// ===================== (e) phonons =====================
function branchDs(br, color, width) {
  return { data:toXY(br), borderColor:color, borderWidth:width, pointRadius:0, cubicInterpolationMode:'monotone', fill:false, clip:0 };
}
function phononChart(box, colored, color, dft, tickPos, tickLabels, showY, gammaX) {
  const ds = [];
  colored.forEach(br => ds.push(branchDs(br, color, 3.2)));
  dft.forEach(br => ds.push(branchDs(br, '#000', 1.8)));
  ds.push({data:[{x:0,y:0},{x:1,y:0}], borderColor:'#000', borderWidth:1.3, borderDash:[5,3], pointRadius:0, clip:0});
  if (gammaX !== undefined) ds.push({data:[{x:gammaX,y:-0.2},{x:gammaX,y:3.5}], borderColor:'#000', borderWidth:1.3, borderDash:[5,3], pointRadius:0, clip:0});
  const xa = axis(0,1,tickPos,{size:18, pad:2, cb:(v,i)=>tickLabels[i]});
  xa.grid.display = false;
  const ya = axis(-0.09,3.345,freqTicks,{labels:showY, pad:5});
  ya.grid.display = false;
  return mk(box, [30,10,12,25], { type:'line', data:{datasets:ds},
    options:{ scales:{x:xa, y:ya}, plugins:{inticks:{values:freqTicks}} },
    plugins:[inTicksPlugin, framePlugin] });
}
phononChart([723,58,889,194], directGX, ORANGE, dftGX, gxTickPos, gxTickLabels, true);
phononChart([921,58,1252,194], directYGZ, ORANGE, dftYGZ, ygzTickPos, ygzTickLabels, false, 0.43);
phononChart([723,224,889,361], transferGX, BLUE, dftGX, gxTickPos, gxTickLabels, true);
phononChart([921,224,1252,361], transferYGZ, BLUE, dftYGZ, ygzTickPos, ygzTickLabels, false, 0.43);

// ===================== (f) elastic tensor =====================
function tensorChart(box, vals, diffs) {
  const cellR = ctx => { const s = ctx.chart.scales.x; return (s.getPixelForValue(1)-s.getPixelForValue(0))/Math.SQRT2; };
  const xa = axis(0,6,[],{labels:false}); xa.grid.display=false;
  const ya = axis(0,6,[],{labels:false, reverse:true}); ya.grid.display=false;
  return mk(box, [4,4,4,4], { type:'scatter',
    data:{datasets:[
      {data:tensorCells.map(([r,c])=>({x:c+0.5,y:r+0.5})), pointStyle:'rect', pointRadius:cellR,
       backgroundColor: ctx => cmap(diffs[ctx.dataIndex] ?? 0), borderColor:'#000', borderWidth:2, clip:false},
      {data:zeroCells.map(([r,c])=>({x:c+0.5,y:r+0.5})), pointRadius:2.8, backgroundColor:'#000', borderWidth:0}
    ]},
    options:{ scales:{x:xa, y:ya}, plugins:{celltext:{values:vals}, frame:{color:'#222', width:1}} },
    plugins:[framePlugin, cellTextPlugin] });
}
tensorChart([721,456,933,668], directCij, directDiff);
tensorChart([1045,456,1257,668], transferCij, transferDiff);

// colorbar
(function(){
  const xa = axis(-15,15,cbarTicks,{dec:0});
  const ya = axis(0,1,[],{labels:false}); ya.grid.display=false;
  mk([899,697,1091,707], [20,4,25,26], { type:'scatter', data:{datasets:[{data:[], pointRadius:0}]},
    options:{ scales:{x:xa, y:ya}, plugins:{frame:{color:'#000', width:1}} },
    plugins:[gradPlugin, framePlugin] });
})();
</script>
</body></html>
